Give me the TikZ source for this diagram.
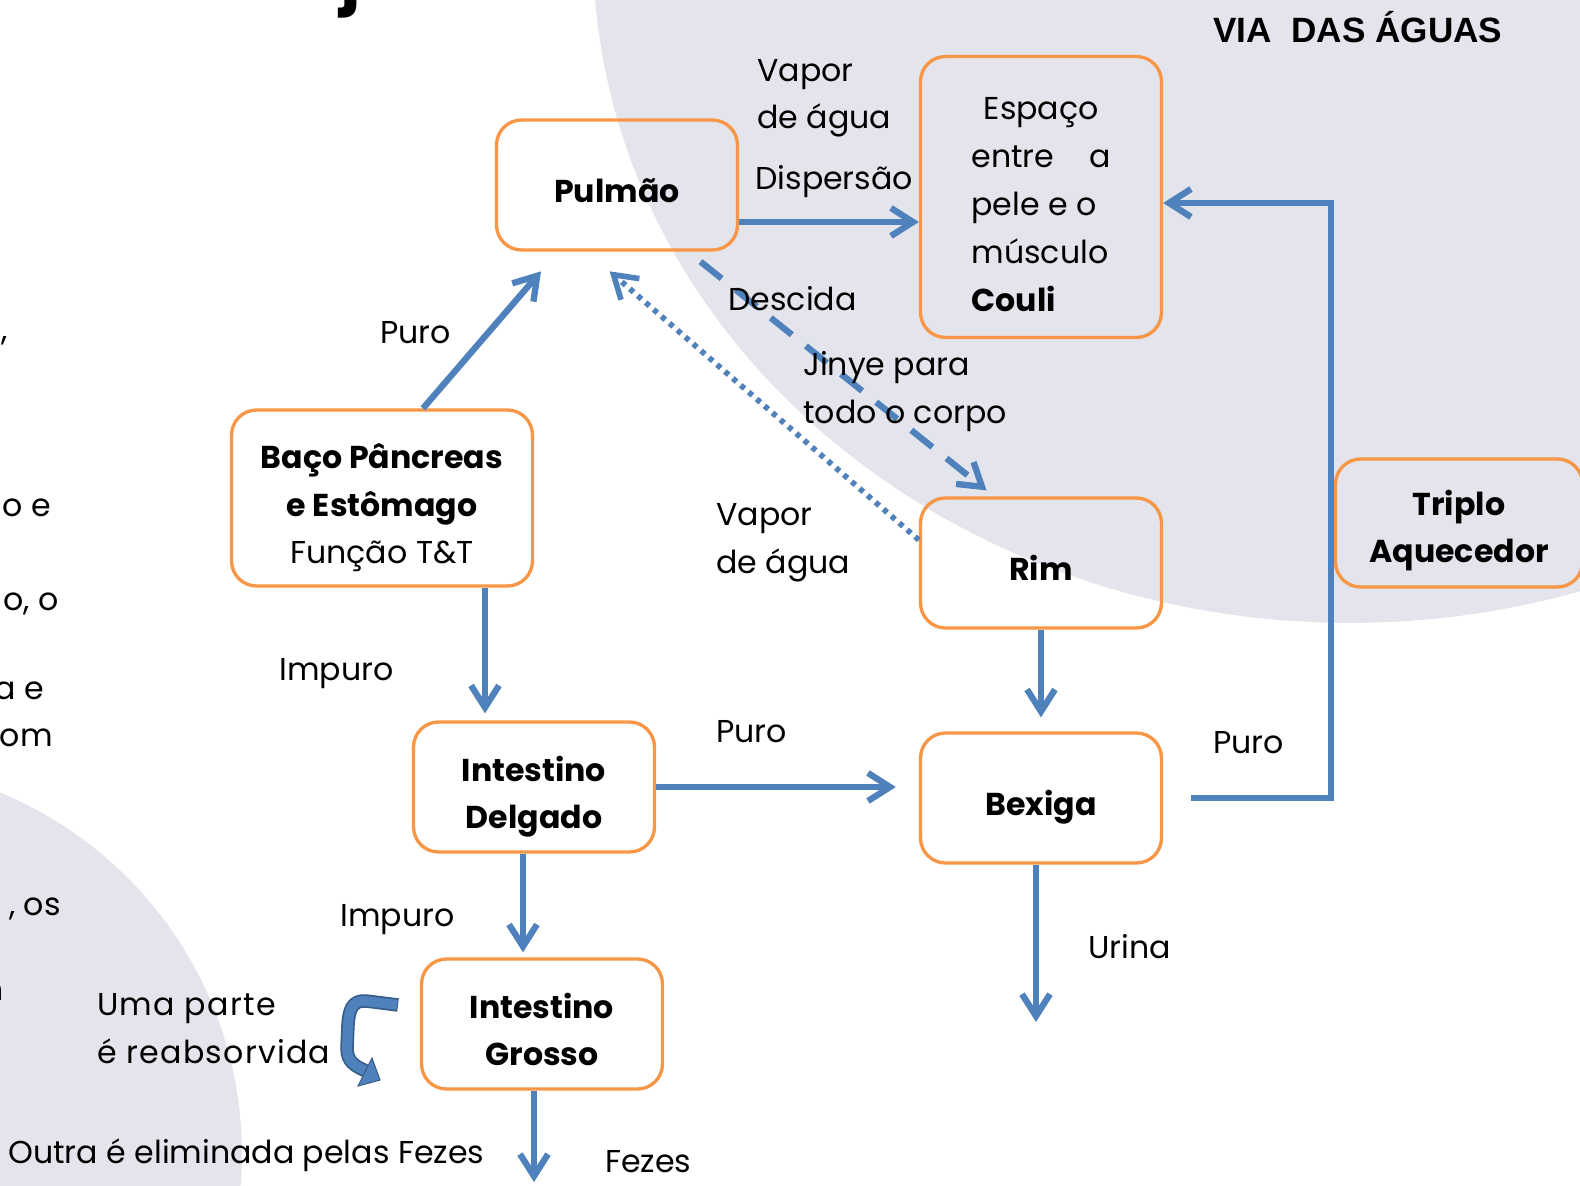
\documentclass[tikz,border=0pt]{standalone}
\usepackage{fontspec}
\setmainfont{Poppins}
\newfontfamily\titulofont{Liberation Sans}
\usetikzlibrary{arrows.meta}
\definecolor{laranja}{RGB}{247,150,70}
\definecolor{azul}{RGB}{79,129,189}
\definecolor{azulescuro}{RGB}{56,93,138}
\definecolor{fundo}{RGB}{228,229,236}
\newcommand{\fonterotulo}{\fontsize{18}{27.3}\selectfont}

\begin{document}
\begin{tikzpicture}[x=0.02cm,y=-0.02cm,
    orgao/.style={draw=laranja,line width=1.9pt,rounded corners=0.5cm,align=center,font=\fonterotulo\bfseries,minimum width=4.82cm,minimum height=2.6cm,inner sep=0pt,text depth=0pt,execute at begin node={\rule{0pt}{20.3pt}}},
    linhas/.style={text height=#1},
    rotulo/.style={font=\fonterotulo,inner sep=0pt,align=left,anchor=base west},
    resto/.style={font=\fonterotulo,inner sep=0pt,anchor=base east},
    seta/.style={draw=azul,line width=3.6pt,-{Straight Barb[length=0.44cm,width=0.56cm]}},
    descida/.style={dash pattern=on 0.54cm off 0.36cm},
    vapor/.style={line width=3.2pt,dash pattern=on 0.1cm off 0.11cm}] %
  \useasboundingbox (0,0) rectangle (1580,1186);
  % fundo do slide
  \fill[fundo] (1350,-50) ellipse [x radius=15.14cm, y radius=13.46cm];
  \fill[fundo] (-149,1154) circle [radius=7.82cm];
  % orgaos
  \node[orgao] (pulmao) at (617,185) {Pulmão} ; %
  \node[orgao, linhas=129.8pt, minimum height=5.62cm, align=left, font=\fonterotulo] (espaco) at (1041,197) {\hspace*{7pt}Espaço\\entre\hspace{1.1em}a\\pele e o\\músculo\\\textbf{Couli}} ; %
  \node[orgao, linhas=75.1pt, minimum width=6.02cm, minimum height=3.52cm] (baco) at (382,498) {Baço Pâncreas\\e Estômago\\\mdseries Função T\&T} ; %
  \node[orgao] (rim) at (1041,563) {Rim} ; %
  \node[orgao, linhas=45.5pt, minimum width=4.94cm, minimum height=2.56cm] (triplo) at (1459,523) {Triplo\\Aquecedor} ; %
  \node[orgao, linhas=47.8pt] (intdelgado) at (534,787) {Intestino\\Delgado} ; %
  \node[orgao] (bexiga) at (1041,798) {Bexiga} ; %
  \node[orgao, linhas=47.8pt] (intgrosso) at (542,1024) {Intestino\\Grosso} ; %
  \coordinate (fimurina) at (1036,1022);
  \coordinate (fimfezes) at (534,1182);
  % ligacoes
  \draw[seta] (pulmao.east |- 0,222) -- (espaco.west |- 0,222);
  \draw[seta, shorten >=0.52cm] (baco.north -| 423,0) -- (pulmao.south -| 558,0);
  \draw[seta, descida, shorten <=0.32cm, shorten >=0.19cm] (pulmao.south -| 688,0) -- (rim.north -| 994,0);
  \draw[seta, vapor, shorten >=0.6cm] (rim.west |- 0,540) -- (pulmao.south -| 587,0);
  \draw[seta, shorten >=0.14cm] (baco.south -| 485,0) -- (intdelgado.north -| 485,0);
  \draw[seta, shorten >=0.28cm] (rim) -- (bexiga);
  \draw[seta, shorten >=0.46cm] (intdelgado.east |- 0,787) -- (bexiga.west |- 0,787);
  \draw[seta, shorten >=0.1cm] (intdelgado.south -| 523,0) -- (intgrosso.north -| 523,0);
  \draw[seta, shorten <=0.56cm] (bexiga.east |- 0,798) -| (1331,203) -- (espaco.east |- 0,203);
  \draw[seta] (bexiga.south -| 1036,0) -- (fimurina);
  \draw[seta] (intgrosso.south -| 534,0) -- (fimfezes);
  % seta curva da reabsorcao
  \draw[azulescuro, line width=0.27cm] (398,1005) -- (366,1001) .. controls (352,1000) and (349,1010) .. (348,1025) -- (347,1048) .. controls (347,1062) and (355,1066) .. (366,1071);
  \draw[azul, line width=0.2cm] (397,1005) -- (366,1001) .. controls (352,1000) and (349,1010) .. (348,1025) -- (347,1048) .. controls (347,1062) and (355,1066) .. (366,1071);
  \filldraw[fill=azul, draw=azulescuro, line width=0.6pt] (380,1080) -- (358,1086) -- (372,1058) -- cycle;
  % rotulos
  \node[rotulo] (vaporagua) at (757,129) {Vapor\\de água};
  \node[rotulo] (dispersao) at (755,190) {Dispersão};
  \node[rotulo] (desc) at (728,310) {Descida};
  \node[rotulo] (jinye) at (803,423) {Jinye para\\todo o corpo};
  \node[rotulo] (puro1) at (380,343) {Puro};
  \node[rotulo] (vaporagua2) at (716,573) {Vapor\\de água};
  \node[rotulo] (impuro1) at (279,680) {Impuro};
  \node[rotulo] (puro2) at (716,742) {Puro};
  \node[rotulo] (puro3) at (1213,753) {Puro};
  \node[rotulo] (impuro2) at (340,926) {Impuro};
  \node[rotulo] (urina) at (1088,958) {Urina};
  \node[rotulo, font=\fonterotulo\addfontfeatures{LetterSpace=4}] (reabs) at (97,1063) {Uma parte\\é reabsorvida};
  \node[rotulo] (outra) at (8,1163) {Outra é eliminada pelas Fezes};
  \node[rotulo] (fezes) at (605,1172) {Fezes};
  \node[rotulo, font=\titulofont\fontsize{20}{24}\selectfont\bfseries] (titulo) at (1213,43) {VIA~~DAS ÁGUAS};
  % restos do texto ao lado
  \node[resto] (r1) at (8,340) {,};
  \node[resto] (r2) at (51,516) {o e};
  \node[resto] (r3) at (59,610) {o, o};
  \node[resto] (r4) at (44,699) {a e};
  \node[resto] (r5) at (53,746) {om};
  \node[resto] (r6) at (61,915) {, os};
  \node[resto] (r7) at (4,1000) {n};
  \node[resto, font=\fontsize{40}{40}\selectfont\bfseries] (r8) at (362,0) {j};
\end{tikzpicture}
\end{document}
